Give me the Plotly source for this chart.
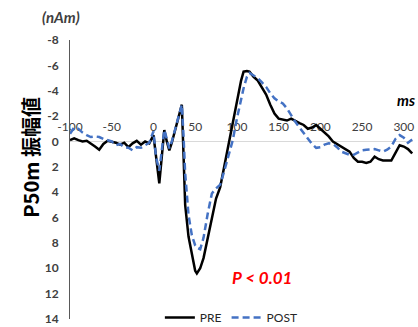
import plotly.graph_objects as go

time_ms = [-100, -95, -90, -85, -80, -75, -70, -65, -60, -55, -50, -45, -40, -35, -30, -25, -20, -15, -10, -5,
           0, 3, 7, 10, 13, 16, 19, 22, 26, 30, 34, 36, 38, 42, 46, 50, 52, 56, 60, 65, 70, 75, 80, 85, 90, 95,
           100, 105, 108, 112, 115, 120, 125, 130, 135, 140, 145, 150, 155, 160, 165, 170, 175, 180, 185, 190,
           195, 200, 205, 210, 215, 220, 225, 230, 235, 240, 245, 250, 255, 260, 265, 270, 275, 280, 285, 290,
           295, 300, 305, 310]

pre = [-0.1, -0.25, -0.1, 0.0, -0.05, 0.15, 0.4, 0.65, 0.2, -0.05, 0.0, 0.1, 0.25, 0.1, 0.45, 0.15, -0.05, 0.25, 0.0, 0.15,
       -0.5, 1.0, 3.3, 1.2, -0.9, 0.0, 0.7, 0.1, -0.9, -1.8, -2.9, 1.0, 5.0, 7.5, 9.0, 10.2, 10.4, 10.0, 9.2, 7.7, 6.0, 4.5,
       3.6, 1.9, 0.4, -1.4, -3.1, -4.8, -5.5, -5.55, -5.5, -5.1, -4.8, -4.3, -3.7, -2.9, -2.2, -1.8, -1.7, -1.65, -1.8,
       -1.6, -1.45, -1.3, -1.0, -1.1, -1.3, -1.0, -0.7, -0.4, 0.0, 0.2, 0.4, 0.6, 0.8, 1.3, 1.6, 1.6, 1.7, 1.6, 1.2, 1.4,
       1.5, 1.5, 1.5, 0.9, 0.3, 0.4, 0.6, 0.95]

post = [-0.6, -1.1, -1.0, -0.7, -0.5, -0.35, -0.4, -0.35, -0.2, -0.1, 0.0, 0.3, 0.2, 0.45, 0.5, 0.7, 0.45, 0.5, 0.3, 0.1,
        -0.8, 1.2, 2.3, 0.5, -0.9, -0.2, 0.55, 0.0, -0.9, -1.9, -2.9, -0.5, 2.5, 5.8, 7.4, 8.2, 8.4, 8.5, 7.6, 5.7, 4.1, 3.7,
        3.4, 2.3, 1.0, -0.1, -1.8, -3.3, -4.2, -5.1, -5.4, -5.2, -5.0, -4.65, -4.3, -3.8, -3.4, -3.15, -3.0, -2.6, -2.05,
        -1.55, -1.1, -0.65, -0.25, 0.2, 0.5, 0.45, 0.25, 0.15, 0.2, 0.45, 0.8, 0.95, 1.05, 1.05, 0.85, 0.7, 0.65, 0.6, 0.6,
        0.7, 0.8, 0.65, 0.4, -0.2, -0.5, -0.3, 0.1, -0.15]

x_ticks = [-100, -50, 0, 50, 100, 150, 200, 250, 300]
y_ticks = [-8, -6, -4, -2, 0, 2, 4, 6, 8, 10, 12, 14]

NUM_FONT = "Lato, 'Noto Sans CJK JP', sans-serif"
Y_MIN, Y_MAX = -8, 14

fig = go.Figure()
fig.add_trace(go.Scatter(x=time_ms, y=pre, mode="lines", name="PRE",
                         line=dict(color="#000000", width=2.5)))
fig.add_trace(go.Scatter(x=time_ms, y=post, mode="lines", name="POST",
                         line=dict(color="#4472C4", width=2.5, dash="7px,4px")))

fig.update_layout(
    width=418, height=327,
    margin=dict(l=70, r=5, t=40, b=8, autoexpand=False),
    paper_bgcolor="white", plot_bgcolor="white",
    font=dict(family=NUM_FONT, color="#404040"),
    showlegend=True,
    legend=dict(orientation="h", x=0.262, xanchor="left", y=0.005, yanchor="middle",
                bgcolor="rgba(0,0,0,0)", font=dict(size=12, color="#262626"),
                itemwidth=30, tracegroupgap=0),
    xaxis=dict(range=[-100, 311], tickvals=x_ticks, ticktext=[str(v) for v in x_ticks],
               anchor="free", position=(Y_MAX - 0) / (Y_MAX - Y_MIN), side="top",
               showline=True, linecolor="#d9d9d9", linewidth=1,
               showgrid=False, zeroline=False, ticks="", ticklabelstandoff=6,
               tickfont=dict(size=12, color="#404040"), layer="below traces"),
    yaxis=dict(range=[Y_MAX, Y_MIN], tickvals=y_ticks, ticktext=[str(v) for v in y_ticks],
               showline=True, linecolor="#595959", linewidth=1,
               showgrid=False, zeroline=False, ticks="", ticklabelstandoff=8,
               tickfont=dict(size=12, color="#404040", weight="bold")),
)

fig.add_annotation(xref="paper", yref="paper", x=0.0, xshift=-30, y=1.0, yshift=23,
                   text="<b><i>(nAm)</i></b>", xanchor="left", yanchor="middle",
                   showarrow=False, font=dict(size=15, color="#404040", family=NUM_FONT))
fig.add_annotation(xref="paper", yref="paper", x=-0.115, y=0.58, text="<b>P50m 振幅値</b>",
                   textangle=-90, showarrow=False,
                   font=dict(size=20, color="#000000", family="'Noto Sans CJK JP', sans-serif"),
                   xanchor="center", yanchor="middle")
fig.add_annotation(xref="paper", yref="paper", x=0.98, y=0.785, text="<b><i>ms</i></b>",
                   showarrow=False, font=dict(size=15, color="#000000", family=NUM_FONT),
                   xanchor="center", yanchor="middle")
fig.add_annotation(xref="paper", yref="paper", x=0.56, y=0.147, text="<b><i>P < 0.01</i></b>",
                   showarrow=False, font=dict(size=17, color="#FF0000", family=NUM_FONT),
                   xanchor="center", yanchor="middle")

fig.write_html("out.html")
